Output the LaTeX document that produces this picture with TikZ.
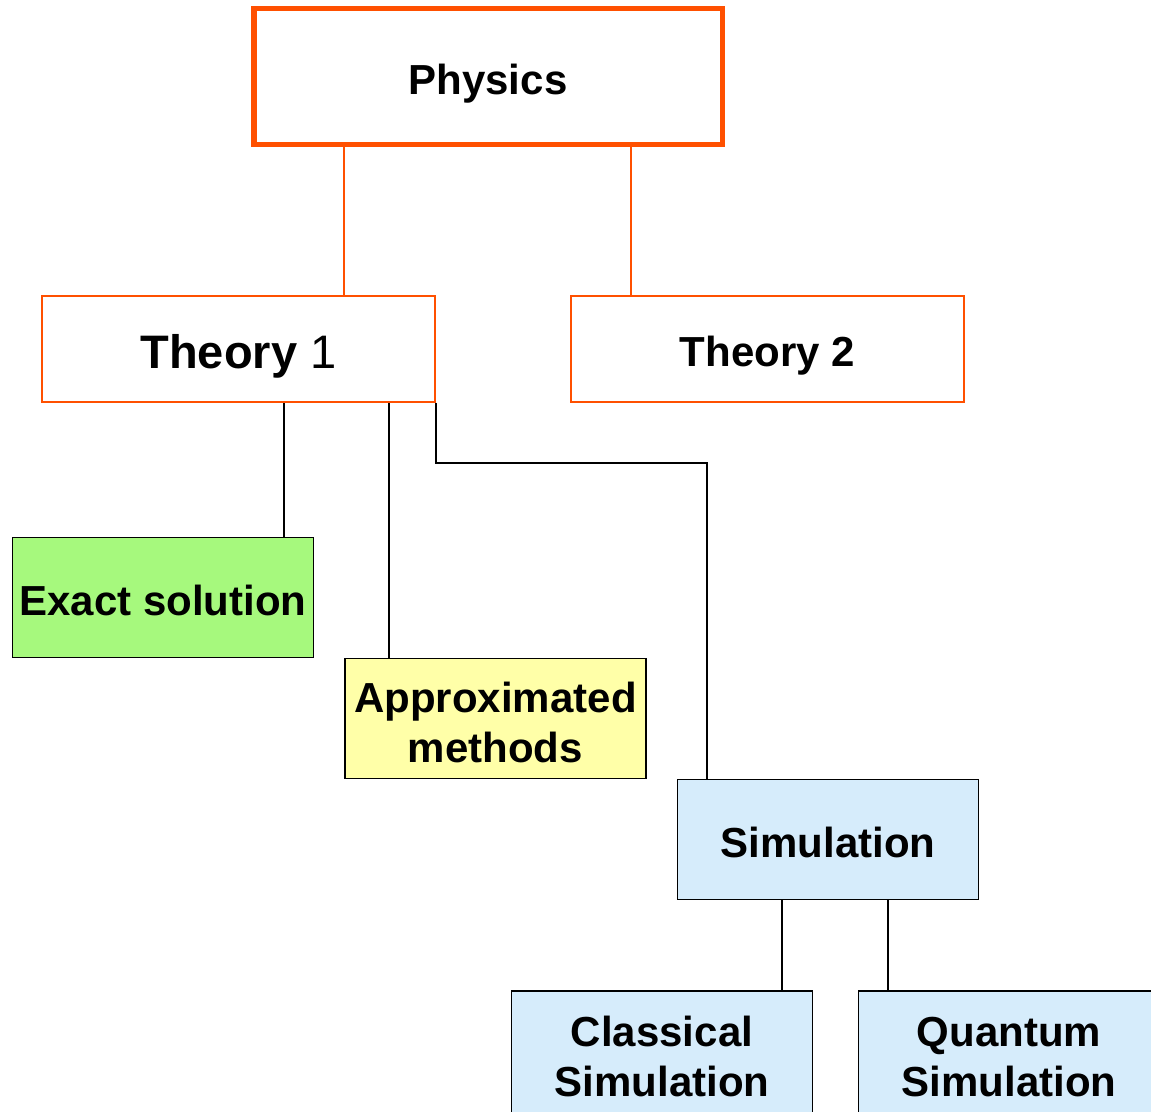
\documentclass[tikz,border=0pt]{standalone}
\usepackage{fontspec}
\setmainfont{Liberation Sans}
\definecolor{orng}{HTML}{FF5000}
\definecolor{grn}{HTML}{A6F97D}
\definecolor{ylw}{HTML}{FFFFA8}
\definecolor{blu}{HTML}{D6ECFB}
\begin{document}
\begin{tikzpicture}[x=1pt,y=-1pt,
  base/.style={rectangle,inner sep=0pt,align=center,
    font=\fontsize{42}{50}\selectfont\bfseries},
  onebox/.style={base,text height=35pt,text depth=0pt},
  twobox/.style={base,text height=87pt,text depth=0pt},
  leaf/.style={minimum width=301pt,minimum height=120pt,draw=black,line width=1.6pt},
  thbox/.style={minimum width=393pt,minimum height=106pt,draw=orng,line width=1.8pt},
  oline/.style={draw=orng,line width=1.6pt},
  bline/.style={draw=black,line width=1.6pt}]
\useasboundingbox (0,0) rectangle (1151,1111);
\clip (0,0) rectangle (1151,1111);
\node[onebox,draw=orng,line width=5.5pt,minimum width=468.5pt,minimum height=136pt] (phys) at (488,76.6) {Physics};
\node[onebox,thbox,text height=38pt] (t1) at (238.5,349) {\fontsize{47}{50}\selectfont Theory \mdseries 1};
\node[onebox,thbox] (t2) at (767.5,349) {Theory 2};
\node[onebox,leaf,fill=grn] (ex) at (163,597.5) {Exact solution};
\node[twobox,leaf,fill=ylw] (ap) at (495.5,718.5) {Approximated\\methods};
\node[onebox,leaf,fill=blu] (sim) at (828,839.5) {Simulation};
\node[twobox,leaf,fill=blu,minimum height=140pt,text height=70pt] (cl) at (662,1061) {Classical\\Simulation};
\node[twobox,leaf,fill=blu,minimum height=140pt,text height=70pt] (qu) at (1009,1061) {Quantum\\Simulation};
% orange connectors
\draw[oline] ([xshift=105.5]t1.north) -- ([xshift=105.5]t1.north |- phys.south);
\draw[oline] ([xshift=-136.5]t2.north) -- ([xshift=-136.5]t2.north |- phys.south);
% black connectors
\draw[bline] ([xshift=121]ex.north) -- ([xshift=121]ex.north |- t1.south);
\draw[bline] ([xshift=-106.5]ap.north) -- ([xshift=-106.5]ap.north |- t1.south);
\draw[bline] (t1.south east) -- ++(0,60) -| ([xshift=-121]sim.north);
\draw[bline] ([xshift=120]cl.north) -- ([xshift=120]cl.north |- sim.south);
\draw[bline] ([xshift=-121]qu.north) -- ([xshift=-121]qu.north |- sim.south);
\end{tikzpicture}
\end{document}
